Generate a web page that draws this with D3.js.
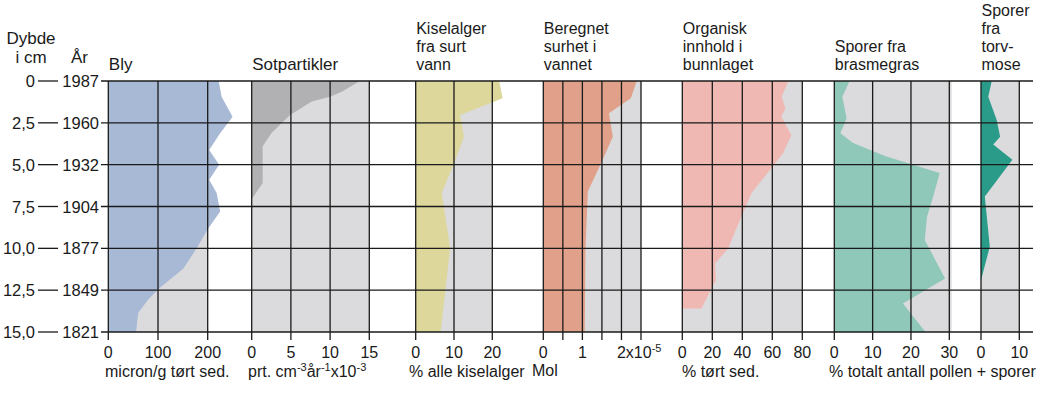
<!DOCTYPE html>
<html>
<head>
<meta charset="utf-8">
<script src="https://cdn.jsdelivr.net/npm/d3@7"></script>
<style>
  html, body { margin: 0; padding: 0; background: #fff; }
  svg text { fill: #1a1a1a; }
</style>
</head>
<body>
<svg id="chart" width="1044" height="393"></svg>
<script>
// depth axis
const depthTicks = [0, 2.5, 5, 7.5, 10, 12.5, 15];
const depthLabels = ['0', '2,5', '5,0', '7,5', '10,0', '12,5', '15,0'];
const yearLabels = ['1987', '1960', '1932', '1904', '1877', '1849', '1821'];

// Bly (micron/g)
const blyDepth = [0, 0.94, 2.13, 3.12, 4.12, 5.0, 5.9, 6.7, 7.8, 8.9, 10.0, 11.2, 11.7, 12.4, 13.07, 13.87, 15];
const blyValues = [222, 228, 250, 225, 203, 223, 203, 218, 225, 199, 178, 151, 131, 102, 80, 60, 56];

// Sotpartikler
const sotDepth = [0, 0.64, 0.94, 1.23, 2.03, 3.1, 3.9, 6.1, 7.06];
const sotValues = [13.8, 11.5, 10.0, 7.65, 4.9, 2.55, 1.4, 1.4, 0];

// Kiselalger fra surt vann
const kiselDepth = [0, 1.03, 2.03, 3.33, 5.1, 6.7, 10, 15];
const kiselValues = [21.8, 22.7, 11.6, 12.6, 9.7, 6.8, 9.0, 6.5];

// Beregnet surhet (x10^-5 Mol)
const surhetDepth = [0, 1.03, 1.93, 3.33, 4.9, 6.6, 10, 15];
const surhetValues = [2.39, 2.24, 1.68, 1.78, 1.48, 1.14, 1.08, 1.06];

// Organisk innhold
const organDepth = [0, 0.94, 1.63, 2.13, 3.22, 4.3, 5.0, 6.7, 8.3, 10.0, 10.9, 11.9, 12.5, 13.6, 13.6];
const organValues = [70.7, 66.3, 68.7, 66.0, 72.7, 67.3, 61.1, 46.2, 38.4, 30.7, 21.8, 22.4, 18.9, 12.9, 0];

// Sporer fra brasmegras
const brasDepth = [0, 0.94, 2.23, 3.12, 3.7, 4.5, 5.5, 6.9, 8.1, 9.5, 11.8, 13.3, 15];
const brasValues = [4.0, 2.1, 3.2, 1.6, 4.9, 13.4, 27.5, 25.8, 24.2, 23.6, 28.9, 17.9, 23.8];

// Sporer fra torvmose
const torvDepth = [0, 0.94, 2.33, 3.33, 3.8, 4.7, 6.9, 9.9, 11.9];
const torvValues = [2.8, 1.9, 4.1, 5.0, 3.2, 8.2, 1.0, 2.3, 0];

const panels = [
  { title: ['Bly'], depth: blyDepth, values: blyValues, domain: [0, 200], range: [108.3, 207.7],
    ticks: [0, 100, 200], labels: ['0', '100', '200'], bgMax: 200, color: '#a8b9d6' },
  { title: ['Sotpartikler'], depth: sotDepth, values: sotValues, domain: [0, 15], range: [251.7, 369.3],
    ticks: [0, 5, 10, 15], labels: ['0', '5', '10', '15'], bgMax: 15, color: '#b1b1b3' },
  { title: ['Kiselalger', 'fra surt', 'vann'], depth: kiselDepth, values: kiselValues, domain: [0, 20], range: [415.7, 492.3],
    ticks: [0, 10, 20], labels: ['0', '10', '20'], bgMax: 20, color: '#ddd79b' },
  { title: ['Beregnet', 'surhet i', 'vannet'], depth: surhetDepth, values: surhetValues, domain: [0, 2.5], range: [543.3, 641],
    ticks: [0, 0.5, 1, 1.5, 2, 2.5], labels: ['0', '', '1', '', null, ''], bgMax: 2.5, color: '#e0a089' },
  { title: ['Organisk', 'innhold i', 'bunnlaget'], depth: organDepth, values: organValues, domain: [0, 80], range: [682.3, 802.3],
    ticks: [0, 20, 40, 60, 80], labels: ['0', '20', '40', '60', '80'], bgMax: 80, color: '#f0b8b2' },
  { title: ['Sporer fra', 'brasmegras'], depth: brasDepth, values: brasValues, domain: [0, 30], range: [834.3, 949.3],
    ticks: [0, 10, 20, 30], labels: ['0', '10', '20', '30'], bgMax: 30.6, color: '#8fc8b9' },
  { title: ['Sporer', 'fra', 'torv-', 'mose'], depth: torvDepth, values: torvValues, domain: [0, 10], range: [981, 1019.3],
    ticks: [0, 10], labels: ['0', '10'], bgMax: 10, color: '#2b9b89' }
];

const svg = d3.select('#chart')
  .style('font-family', "'Liberation Sans', Arial, sans-serif");
const y = d3.scaleLinear().domain([0, 15]).range([81, 332]);
const yTop = y(0), yBottom = y(15);
const titleSize = 16;
const tickSize = 16;
const leftSize = 16.5;
const lineGap = 18;
const titleBase = 70;

// panels: background, fill
panels.forEach((p) => {
  const x = d3.scaleLinear().domain(p.domain).range(p.range);
  p.x = x;
  svg.append('rect')
    .attr('x', x(0)).attr('y', yTop)
    .attr('width', x(p.bgMax) - x(0)).attr('height', yBottom - yTop)
    .attr('fill', '#dbdbdd');

  const area = d3.area()
    .x0(x(0))
    .x1((d, i) => x(p.values[i]))
    .y((d) => y(d));
  svg.append('path')
    .datum(p.depth)
    .attr('d', area)
    .attr('fill', p.color);
});

// horizontal grid lines
svg.append('g').selectAll('line')
  .data(depthTicks)
  .join('line')
  .attr('x1', 101).attr('x2', 1033)
  .attr('y1', (d) => y(d)).attr('y2', (d) => y(d))
  .attr('stroke', '#1a1a1a').attr('stroke-width', 1.3);

// left axis labels
const left = svg.append('g');
left.selectAll('text.depth')
  .data(depthTicks)
  .join('text')
  .attr('class', 'depth')
  .attr('x', 35).attr('y', (d) => y(d) + 6)
  .attr('text-anchor', 'end')
  .style('font-size', leftSize + 'px')
  .text((d, i) => depthLabels[i]);
left.selectAll('line.dash')
  .data(depthTicks)
  .join('line')
  .attr('class', 'dash')
  .attr('x1', 38).attr('x2', 58)
  .attr('y1', (d) => y(d)).attr('y2', (d) => y(d))
  .attr('stroke', '#1a1a1a').attr('stroke-width', 1.3);
left.selectAll('text.year')
  .data(depthTicks)
  .join('text')
  .attr('class', 'year')
  .attr('x', 99).attr('y', (d) => y(d) + 6)
  .attr('text-anchor', 'end')
  .style('font-size', leftSize + 'px')
  .text((d, i) => yearLabels[i]);

left.append('text').attr('x', 31).attr('y', 44).attr('text-anchor', 'middle')
  .style('font-size', '17px').text('Dybde');
left.append('text').attr('x', 31).attr('y', 63).attr('text-anchor', 'middle')
  .style('font-size', '17px').text('i cm');
left.append('text').attr('x', 71).attr('y', 63)
  .style('font-size', '17px').text('År');

// vertical grid lines, ticks, titles
panels.forEach((p) => {
  const x = p.x;
  const g = svg.append('g');
  g.selectAll('line.v')
    .data(p.ticks)
    .join('line')
    .attr('class', 'v')
    .attr('x1', (d) => x(d)).attr('x2', (d) => x(d))
    .attr('y1', yTop).attr('y2', yBottom + 8)
    .attr('stroke', '#1a1a1a').attr('stroke-width', 1.3);

  g.selectAll('text.tick')
    .data(p.ticks.filter((d, i) => p.labels[i]))
    .join('text')
    .attr('class', 'tick')
    .attr('x', (d) => x(d)).attr('y', 358)
    .attr('text-anchor', 'middle')
    .style('font-size', tickSize + 'px')
    .text((d) => p.labels[p.ticks.indexOf(d)]);

  const n = p.title.length;
  p.title.forEach((t, i) => {
    g.append('text')
      .attr('x', x(0) + 0.5)
      .attr('y', titleBase - (n - 1 - i) * lineGap)
      .style('font-size', (n === 1 ? 17 : titleSize) + 'px')
      .text(t);
  });
});

// special label 2x10^-5
const surhet = panels[3];
const lab = svg.append('text')
  .attr('x', surhet.x(2) - 4.5).attr('y', 358)
  .style('font-size', tickSize + 'px');
lab.append('tspan').text('2x10');
lab.append('tspan').attr('dy', -6).style('font-size', '11px').text('-5');

// unit labels
function unit(xpos, ypos, parts) {
  const t = svg.append('text').attr('x', xpos).attr('y', ypos).style('font-size', tickSize + 'px');
  let raised = false;
  parts.forEach((part) => {
    const sup = part[1];
    const s = t.append('tspan').text(part[0]);
    if (sup) s.style('font-size', '11px');
    if (sup && !raised) { s.attr('dy', -6); raised = true; }
    else if (!sup && raised) { s.attr('dy', 6); raised = false; }
  });
}
unit(105, 377, [['micron/g tørt sed.']]);
unit(248, 377, [['prt. cm'], ['-3', true], ['år'], ['-1', true], ['x10'], ['-3', true]]);
unit(409, 377, [['% alle kiselalger']]);
unit(532, 376, [['Mol']]);
unit(682, 377, [['% tørt sed.']]);
unit(829, 377, [['% totalt antall pollen + sporer']]);
</script>
</body>
</html>
